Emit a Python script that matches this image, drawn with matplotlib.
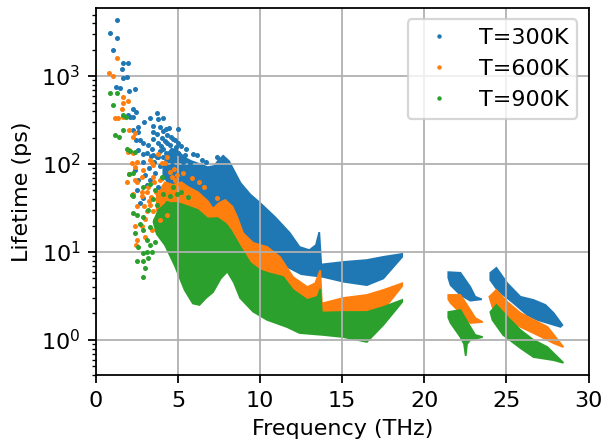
import matplotlib
matplotlib.use("Agg")
import matplotlib.pyplot as plt
import numpy as np

# isolated low-frequency modes, (frequency THz, lifetime ps)
pts_300 = [(1.26, 4330), (0.85, 3060), (1.30, 2720), (1.02, 1975), (1.63, 1416), (1.95, 1393),
           (1.61, 1191), (1.67, 942), (1.87, 966), (1.20, 743), (1.46, 724), (2.03, 681),
           (2.40, 711), (2.24, 418), (2.42, 386), (1.97, 360), (2.07, 339), (2.24, 339),
           (3.70, 377), (3.29, 336), (2.93, 302), (3.80, 322), (4.06, 331), (2.58, 261),
           (3.45, 270), (3.90, 265), (4.47, 254), (4.98, 250), (2.28, 243), (3.50, 233),
           (4.06, 235), (4.27, 248), (2.58, 233), (3.70, 219), (2.42, 187), (2.88, 172),
           (3.50, 191), (4.00, 195), (4.57, 204), (4.82, 187), (3.19, 164), (3.80, 172),
           (4.31, 172), (4.88, 157), (3.40, 147), (4.10, 150), (2.88, 130), (4.51, 138),
           (5.02, 132), (6.18, 126), (3.35, 123), (3.80, 121), (5.32, 106), (4.72, 115),
           (5.73, 102), (4.61, 97), (7.36, 121), (3.47, 125), (3.72, 120), (4.06, 119),
           (2.68, 187), (2.58, 145), (2.88, 106), (3.09, 132), (2.38, 85), (2.58, 66),
           (2.48, 50), (2.88, 41), (2.68, 36), (4.35, 215), (4.70, 190), (5.00, 175),
           (5.20, 160), (4.50, 165), (5.50, 150), (5.90, 130), (4.20, 185), (3.95, 160),
           (3.90, 140), (3.20, 90), (3.60, 80), (3.90, 95), (3.30, 65), (3.75, 55),
           (4.05, 70), (3.00, 75), (5.45, 128), (6.45, 112), (6.70, 105), (3.55, 105),
           (4.25, 135), (4.80, 145), (3.10, 58)]

pts_600 = [(1.26, 1585), (0.79, 1070), (1.02, 1000), (1.63, 582), (1.93, 525), (1.63, 500),
           (1.61, 422), (1.16, 336), (1.36, 336), (1.67, 345), (2.03, 243), (2.38, 227),
           (2.27, 204), (1.97, 138), (2.27, 135), (2.03, 145), (2.18, 102), (2.38, 93),
           (2.48, 106), (2.03, 78), (1.87, 63), (2.48, 63), (2.88, 85), (3.40, 102),
           (3.76, 130), (4.00, 102), (4.31, 121), (3.29, 111), (3.50, 97), (4.20, 102),
           (3.45, 72), (3.90, 66), (2.27, 46), (3.09, 48), (2.78, 43), (4.61, 72),
           (4.51, 53), (5.12, 60), (5.63, 46), (5.43, 39), (2.38, 66), (2.78, 72),
           (3.19, 55), (2.78, 48), (4.51, 82), (4.82, 66), (2.38, 20), (2.44, 12),
           (2.48, 13.7), (2.78, 20), (2.99, 24), (2.48, 33), (3.09, 29), (3.50, 29),
           (3.29, 34), (3.80, 34), (3.90, 23), (4.31, 26), (7.36, 41), (3.35, 42),
           (3.65, 48), (4.05, 45), (4.75, 88), (5.30, 80), (5.85, 70), (6.30, 62),
           (3.20, 38), (3.55, 62), (2.95, 33), (4.95, 75), (6.60, 55), (3.00, 15),
           (3.40, 18)]

pts_900 = [(0.85, 647), (1.26, 647), (1.02, 468), (1.63, 360), (1.83, 339), (1.16, 214),
           (1.42, 204), (1.63, 243), (1.87, 150), (2.07, 142), (2.38, 138), (2.03, 78),
           (2.24, 80), (2.18, 44), (2.28, 43), (2.88, 55), (3.29, 60), (3.60, 51),
           (4.00, 72), (4.10, 46), (3.70, 34), (4.51, 43), (4.92, 46), (4.31, 36),
           (2.28, 27.5), (2.48, 26), (2.38, 16.3), (2.88, 17.8), (2.58, 11.5), (2.88, 9.7),
           (3.09, 10), (2.48, 7.8), (2.88, 7.8), (2.99, 6.5), (2.84, 5.2), (3.19, 8.5),
           (3.40, 10), (3.29, 12), (3.60, 13.1), (3.09, 13.7), (2.68, 21), (2.88, 25),
           (3.29, 19.4), (3.70, 17.8), (4.00, 15), (3.60, 23), (4.10, 21), (3.15, 30),
           (3.45, 40), (3.85, 28), (5.20, 48), (5.60, 42), (4.70, 55)]

# outlines of the densely sampled branches, (frequency THz, lifetime ps)
band_300 = [(4.1, 95), (4.3, 120), (4.6, 150), (5.0, 140), (5.4, 118), (5.8, 108), (6.3, 100),
            (6.8, 92), (7.2, 95), (7.45, 110), (7.75, 124), (8.1, 108), (8.8, 61), (9.4, 45),
            (10.0, 36), (10.9, 25), (11.8, 16.5), (12.4, 11.4), (13.0, 10.5), (13.4, 12.0),
            (13.6, 16.8), (13.72, 7.2), (15.06, 7.7), (16.5, 8.1), (17.5, 8.8), (18.65, 9.5),
            (18.65, 8.8), (17.5, 5.0), (16.5, 4.2), (15.06, 4.6), (13.85, 5.2), (12.5, 5.6),
            (11.5, 7.0), (10.5, 9.5), (9.5, 13), (8.5, 20), (7.5, 28), (6.5, 32), (5.5, 38),
            (4.8, 45), (4.4, 60), (4.1, 75)]

band_600 = [(3.7, 45), (4.2, 62), (4.7, 58), (5.2, 62), (5.6, 55), (6.2, 48), (6.8, 38),
            (7.13, 31), (7.5, 36), (7.87, 39), (8.3, 33), (8.6, 25), (8.96, 16.4), (9.57, 12.7),
            (10.43, 11.4), (11.2, 8.8), (12.0, 5.2), (12.87, 4.0), (13.35, 4.4), (13.66, 6.2),
            (13.76, 2.6), (15.06, 3.0), (16.5, 3.25), (17.5, 3.7), (18.65, 4.4),
            (18.65, 4.1), (17.5, 2.2), (16.5, 1.9), (15.0, 1.9), (13.7, 2.0), (12.9, 2.4),
            (12.0, 3.0), (11.0, 3.8), (10.0, 4.5), (9.0, 6.5), (8.0, 9), (7.0, 10), (6.0, 10),
            (5.0, 12), (4.2, 20), (3.7, 30)]

band_900 = [(3.5, 22), (3.8, 30), (4.3, 36), (5.0, 36), (5.6, 33), (6.2, 30), (6.8, 24),
            (7.4, 24.3), (7.9, 21), (8.2, 17.8), (8.8, 11.4), (9.4, 7.5), (10.0, 6.2),
            (10.43, 5.8), (11.4, 5.2), (12.0, 3.7), (12.87, 2.85), (13.5, 3.1), (13.66, 3.8),
            (13.76, 2.05), (15.06, 2.08), (16.5, 2.08), (17.5, 2.37), (18.65, 2.85),
            (18.65, 2.7), (17.5, 1.48), (16.5, 0.95), (15.06, 1.08), (13.85, 1.14), (12.4, 1.2),
            (11.65, 1.4), (10.43, 1.69), (9.57, 2.1), (8.78, 3.0), (8.4, 4.5), (8.0, 6.0),
            (7.6, 5.0), (7.13, 3.5), (6.7, 3.0), (6.3, 2.5), (5.9, 2.6), (5.4, 3.7), (4.8, 7),
            (4.2, 12), (3.7, 16)]

# optical branches around 21-24 THz
optA_300 = [(21.46, 5.9), (22.2, 5.8), (22.8, 4.0), (23.1, 3.1), (23.5, 2.9), (22.8, 2.8),
            (22.2, 3.25), (21.6, 4.2), (21.46, 5.1)]
optA_600 = [(21.46, 3.25), (22.2, 3.25), (22.8, 2.19), (23.1, 1.78), (23.55, 1.6), (22.8, 1.56),
            (22.2, 2.03), (21.6, 2.63), (21.46, 2.9)]
optA_900 = [(21.46, 2.08), (22.2, 2.19), (22.8, 1.41), (23.1, 1.14), (23.55, 1.08), (22.8, 1.0),
            (22.6, 0.9), (22.52, 0.66), (22.42, 0.9), (22.2, 1.08), (21.6, 1.56), (21.46, 1.8)]

# optical branches around 24-28.5 THz
optB_300 = [(24.02, 5.8), (24.39, 6.6), (25.06, 4.4), (25.85, 3.1), (26.65, 2.85), (27.38, 2.5),
            (27.87, 2.03), (28.41, 1.48), (28.29, 1.41), (26.89, 1.69), (26.28, 1.92),
            (25.43, 2.63), (24.45, 3.7), (24.02, 4.8)]
optB_600 = [(23.96, 3.1), (24.39, 3.7), (25.06, 2.7), (25.85, 2.03), (26.65, 1.69), (27.5, 1.41),
            (28.47, 0.83), (27.87, 0.92), (26.89, 1.14), (25.85, 1.41), (24.8, 1.83), (24.15, 2.37)]
optB_900 = [(24.02, 2.08), (24.39, 2.5), (25.06, 1.83), (25.85, 1.3), (26.65, 1.0), (27.5, 0.83),
            (28.47, 0.55), (27.87, 0.59), (26.65, 0.64), (25.85, 0.81), (24.8, 1.14), (24.15, 1.69)]

temps = ['T=300K', 'T=600K', 'T=900K']
colores = ['tab:blue', 'tab:orange', 'tab:green']
puntos = [pts_300, pts_600, pts_900]
bandas = [[band_300, optA_300, optB_300],
          [band_600, optA_600, optB_600],
          [band_900, optA_900, optB_900]]

fig = plt.figure(figsize=(615/160, 444/160), dpi=160)
ax = fig.add_axes([96/615, 69/444, 492.5/615, 367/444])

for lab, c, pts, bs in zip(temps, colores, puntos, bandas):
    for b in bs:
        b = np.array(b)
        ax.fill(b[:, 0], b[:, 1], color=c, lw=0.8)
    p = np.array(pts)
    ax.plot(p[:, 0], p[:, 1], '.', ms=2.5, color=c, label=lab)

ax.set_yscale('log')
ax.set_xlim(0, 30)
ax.set_ylim(0.40, 5930)
ax.set_xlabel('Frequency (THz)')
ax.set_ylabel('Lifetime (ps)')
ax.grid(True)
ax.legend(loc='upper right', markerscale=0.8)

fig.savefig('out.png', dpi=160)
